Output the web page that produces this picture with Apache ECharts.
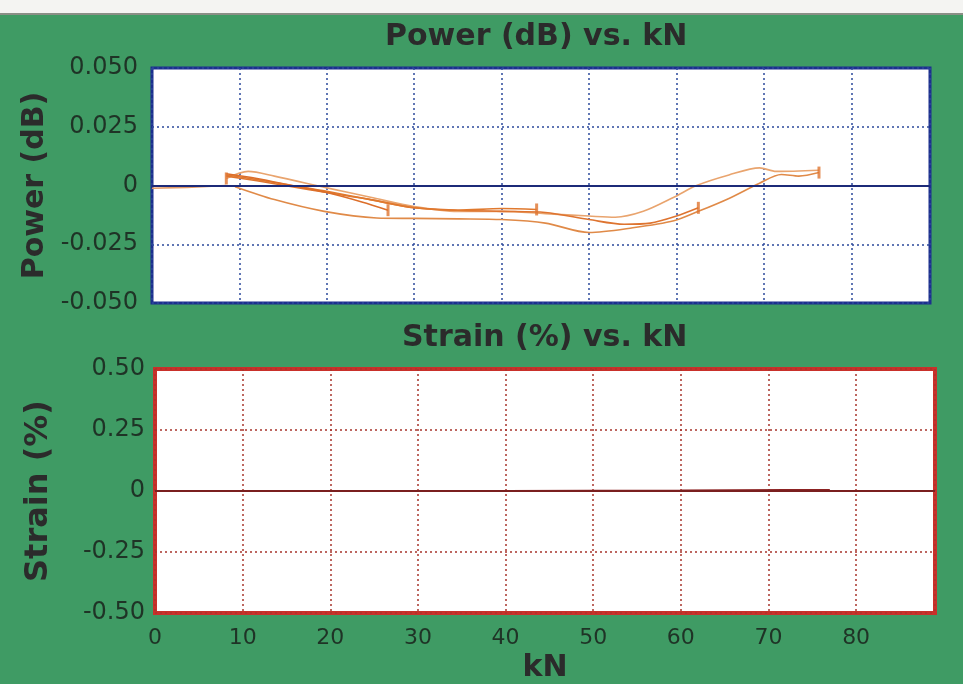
<!DOCTYPE html>
<html>
<head>
<meta charset="utf-8">
<script src="https://cdn.jsdelivr.net/npm/echarts@6/dist/echarts.min.js"></script>
<style>
    html, body { margin: 0; padding: 0; background: #fff; }
    #chart { width: 963px; height: 684px; }
</style>
</head>
<body>
<div id="chart"></div>
<script>
// Power (dB) traces
const preKN = [0, 4, 8.5];
const preDB = [-0.0012, -0.0008, 0.0];

const up1KN = [8.5, 11, 14, 20, 25, 30, 35, 40, 45, 50, 53, 56.2, 59.7, 62.3, 66, 69.5, 71.4, 76.3];
const up1DB = [0.003, 0.006, 0.004, -0.001, -0.005, -0.009, -0.011, -0.011, -0.012, -0.013, -0.0135, -0.011, -0.005, 0.0, 0.0045, 0.0075, 0.006, 0.0065];

const down1KN = [76.3, 74, 72, 69.5, 66, 62.5, 59.7, 55, 50, 45, 40, 35, 30, 25.7, 19.7, 14, 9.5];
const down1DB = [0.0055, 0.004, 0.0047, 0.001, -0.0055, -0.011, -0.015, -0.018, -0.020, -0.016, -0.0145, -0.0142, -0.014, -0.0138, -0.011, -0.006, -0.0005];

const up2KN = [8.5, 12, 16, 20, 25, 30, 35, 40, 45, 50, 54, 57, 60, 62.5];
const up2DB = [0.004, 0.002, -0.0005, -0.003, -0.006, -0.0095, -0.0105, -0.011, -0.0115, -0.0145, -0.0165, -0.016, -0.013, -0.0095];

const up3KN = [8.5, 12, 16, 20, 25, 30, 35, 40, 44];
const up3DB = [0.0045, 0.0025, 0.0, -0.0025, -0.006, -0.0095, -0.0105, -0.0098, -0.0102];

const up4KN = [8.5, 12, 16, 20, 24, 27];
const up4DB = [0.005, 0.003, 0.0, -0.003, -0.007, -0.0105];

// short tick marks where traces stop
const endKN = [8.5, 27, 44, 62.5, 76.3];
const endDB = [0.003, -0.0105, -0.0102, -0.0095, 0.0055];

// Strain (%) trace
const strainKN = [0, 20, 40, 60, 72, 77];
const strainPct = [0, 0, 0, 0.002, 0.004, 0.004];

const powerTicks = [-0.05, -0.025, 0, 0.025, 0.05];
const strainTicks = [-0.5, -0.25, 0, 0.25, 0.5];

const FONT = 'DejaVu Sans';
const GREEN = '#3f9b64';

function zip(xs, ys) {
    return xs.map((x, i) => [x, ys[i]]);
}

function traceSeries(name, xs, ys, color) {
    return {
        name: name,
        type: 'line',
        xAxisIndex: 0,
        yAxisIndex: 0,
        showSymbol: false,
        symbol: 'none',
        smooth: 0.3,
        lineStyle: { color: color, width: 1.6 },
        data: zip(xs, ys),
        z: 3
    };
}

let chart = echarts.init(document.getElementById('chart'));

chart.setOption({
    backgroundColor: GREEN,
    animation: false,
    graphic: [
        { type: 'rect', shape: { x: 0, y: 0, width: 963, height: 13 }, style: { fill: '#f4f4f2' } },
        { type: 'rect', shape: { x: 0, y: 13, width: 963, height: 2 }, style: { fill: '#8a8f86' } }
    ],
    title: [
        {
            text: 'Power (dB) vs. kN',
            left: 385, top: 22, padding: 0,
            textStyle: { fontFamily: FONT, fontSize: 30, fontWeight: 'bold', color: '#2b2b2b' }
        },
        {
            text: 'Strain (%) vs. kN',
            left: 402, top: 323, padding: 0,
            textStyle: { fontFamily: FONT, fontSize: 30, fontWeight: 'bold', color: '#2b2b2b' }
        }
    ],
    grid: [
        {
            left: 152, top: 68, width: 778, height: 235,
            outerBoundsMode: 'none',
            show: true, backgroundColor: '#ffffff',
            borderColor: '#1c2f8e', borderWidth: 3
        },
        {
            left: 155, top: 369, width: 780, height: 244,
            outerBoundsMode: 'none',
            show: true, backgroundColor: '#ffffff',
            borderColor: '#c9302a', borderWidth: 4
        }
    ],
    xAxis: [
        {
            gridIndex: 0, type: 'value', min: 0, max: 89, interval: 10,
            axisLine: { show: false }, axisTick: { show: false }, axisLabel: { show: false },
            splitLine: { lineStyle: { color: '#2d4a9c', type: [2, 3], width: 1.5 } }
        },
        {
            gridIndex: 1, type: 'value', min: 0, max: 89, interval: 10,
            name: 'kN', nameLocation: 'middle', nameGap: 40,
            nameTextStyle: { fontFamily: FONT, fontSize: 30, fontWeight: 'bold', color: '#2b2b2b' },
            axisLine: { show: false }, axisTick: { show: false },
            axisLabel: {
                fontFamily: FONT, fontSize: 22, color: '#1f3326', margin: 14,
                showMaxLabel: false
            },
            splitLine: { lineStyle: { color: '#a8352c', type: [2, 3], width: 1.5 } }
        }
    ],
    yAxis: [
        {
            gridIndex: 0, type: 'value', min: powerTicks[0], max: powerTicks[4], interval: 0.025,
            name: 'Power (dB)', nameLocation: 'middle', nameGap: 100,
            nameTextStyle: { fontFamily: FONT, fontSize: 30, fontWeight: 'bold', color: '#2b2b2b' },
            axisLine: { show: false }, axisTick: { show: false },
            axisLabel: {
                fontFamily: FONT, fontSize: 24, color: '#1f3326', margin: 14,
                formatter: v => (Math.abs(v) < 1e-9 ? '0' : v.toFixed(3))
            },
            splitLine: { lineStyle: { color: '#2d4a9c', type: [2, 3], width: 1.5 } }
        },
        {
            gridIndex: 1, type: 'value', min: strainTicks[0], max: strainTicks[4], interval: 0.25,
            name: 'Strain (%)', nameLocation: 'middle', nameGap: 100,
            nameTextStyle: { fontFamily: FONT, fontSize: 32, fontWeight: 'bold', color: '#2b2b2b' },
            axisLine: { show: false }, axisTick: { show: false },
            axisLabel: {
                fontFamily: FONT, fontSize: 24, color: '#1f3326', margin: 10,
                formatter: v => (Math.abs(v) < 1e-9 ? '0' : v.toFixed(2))
            },
            splitLine: { lineStyle: { color: '#a8352c', type: [2, 3], width: 1.5 } }
        }
    ],
    series: [
        {
            name: 'pre',
            type: 'line',
            xAxisIndex: 0, yAxisIndex: 0,
            showSymbol: false, symbol: 'none',
            lineStyle: { color: '#e39a66', width: 1.6 },
            data: zip(preKN, preDB),
            markLine: {
                silent: true, symbol: 'none', label: { show: false },
                lineStyle: { color: '#1c2a78', width: 2, type: 'solid' },
                data: [{ yAxis: 0 }]
            },
            z: 3
        },
        traceSeries('up1', up1KN, up1DB, '#e9a46e'),
        traceSeries('down1', down1KN, down1DB, '#e08a48'),
        traceSeries('up2', up2KN, up2DB, '#de7430'),
        traceSeries('up3', up3KN, up3DB, '#e0792e'),
        traceSeries('up4', up4KN, up4DB, '#dc6e2a'),
        {
            name: 'ends',
            type: 'scatter',
            xAxisIndex: 0, yAxisIndex: 0,
            symbol: 'rect', symbolSize: [3, 12],
            itemStyle: { color: '#de7430' },
            data: zip(endKN, endDB),
            z: 4
        },
        {
            name: 'strain',
            type: 'line',
            xAxisIndex: 1, yAxisIndex: 1,
            showSymbol: false, symbol: 'none',
            lineStyle: { color: '#8c2222', width: 2 },
            data: zip(strainKN, strainPct),
            markLine: {
                silent: true, symbol: 'none', label: { show: false },
                lineStyle: { color: '#7a1f1f', width: 2, type: 'solid' },
                data: [{ yAxis: 0 }]
            },
            z: 3
        }
    ]
});
</script>
</body>
</html>
